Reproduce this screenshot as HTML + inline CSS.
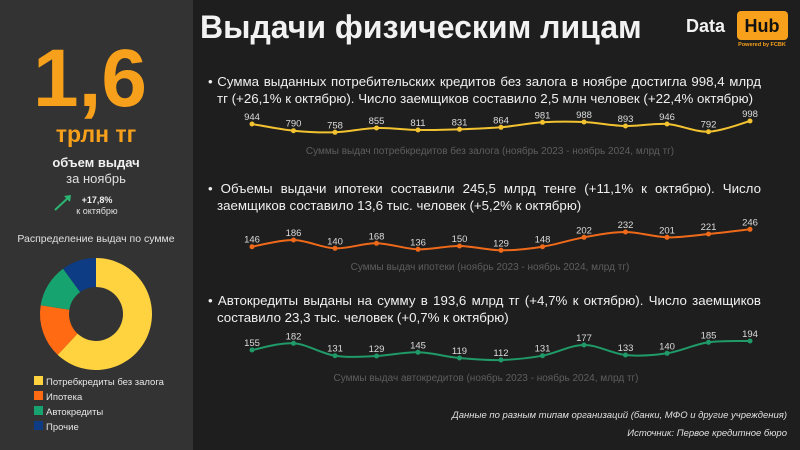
<!DOCTYPE html>
<html><head><meta charset="utf-8"><style>
body{margin:0;width:800px;height:450px;background:#1e1e1e;overflow:hidden;font-family:"Liberation Sans","DejaVu Sans",sans-serif;}
svg{display:block}
.p{position:absolute;color:#f0f0f0;font-size:13.3px;line-height:17px;text-align:justify;text-align-last:left;padding-left:9px;text-indent:-9px;}
</style></head><body>
<div style="position:absolute;left:0;top:0;width:193px;height:450px;background:#333333"></div>
<svg id="s" width="800" height="450" style="position:absolute;left:0;top:0">
<text x="90" y="106" text-anchor="middle" font-size="82" font-weight="bold" fill="#f7a01b">1,6</text>
<text x="96" y="142" text-anchor="middle" font-size="23" font-weight="bold" fill="#f7a01b">трлн тг</text>
<text x="96" y="167" text-anchor="middle" font-size="13" font-weight="bold" fill="#f0f0f0">объем выдач</text>
<text x="96" y="183" text-anchor="middle" font-size="13" fill="#e0e0e0">за ноябрь</text>
<line x1="55" y1="210" x2="69" y2="197" stroke="#2bb673" stroke-width="2"/>
<polygon points="71,195 64,196 70,202" fill="#2bb673"/>
<text x="97" y="203" text-anchor="middle" font-size="9" font-weight="bold" fill="#f0f0f0">+17,8%</text>
<text x="97" y="214" text-anchor="middle" font-size="9" fill="#e0e0e0">к октябрю</text>
<text x="96" y="242" text-anchor="middle" font-size="10.5" fill="#e0e0e0">Распределение выдач по сумме</text>
<g id="donut"></g>
<rect x="34" y="376" width="9" height="9" fill="#ffd23f"/><text x="46" y="385" font-size="9.5" fill="#e6e6e6">Потребкредиты без залога</text>
<rect x="34" y="391" width="9" height="9" fill="#ff6a13"/><text x="46" y="400" font-size="9.5" fill="#e6e6e6">Ипотека</text>
<rect x="34" y="406" width="9" height="9" fill="#17a36f"/><text x="46" y="415" font-size="9.5" fill="#e6e6e6">Автокредиты</text>
<rect x="34" y="421" width="9" height="9" fill="#0d3c85"/><text x="46" y="430" font-size="9.5" fill="#e6e6e6">Прочие</text>
<text x="200" y="38" font-size="32" font-weight="bold" fill="#f2f2f2">Выдачи физическим лицам</text>
<text x="686" y="32" font-size="18" font-weight="bold" fill="#f2f2f2">Data</text>
<rect x="737" y="11" width="51" height="29" rx="4" fill="#f7a01b"/>
<text x="762" y="32" text-anchor="middle" font-size="18" font-weight="bold" fill="#111">Hub</text>
<text x="762" y="46" text-anchor="middle" font-size="5.5" font-weight="bold" fill="#f7a01b">Powered by FCBK</text>
<text x="490" y="154" text-anchor="middle" font-size="10" fill="#5e5e5e">Суммы выдач потребкредитов без залога (ноябрь 2023 - ноябрь 2024, млрд тг)</text>
<text x="490" y="270" text-anchor="middle" font-size="10" fill="#5e5e5e">Суммы выдач ипотеки  (ноябрь 2023 - ноябрь 2024, млрд тг)</text>
<text x="486" y="381" text-anchor="middle" font-size="10" fill="#5e5e5e">Суммы выдач автокредитов (ноябрь 2023 - ноябрь 2024, млрд тг)</text>
<text x="787" y="418" text-anchor="end" font-size="9.5" font-style="italic" fill="#e0e0e0">Данные по разным типам организаций (банки, МФО и другие учреждения)</text>
<text x="787" y="436" text-anchor="end" font-size="9.5" font-style="italic" fill="#e0e0e0">Источник: Первое кредитное бюро</text>
<g id="lines"></g>
</svg>
<div class="p" style="left:208px;top:73px;width:544px">• Сумма выданных потребительских кредитов без залога в ноябре достигла 998,4 млрд тг (+26,1% к октябрю). Число заемщиков составило 2,5 млн человек (+22,4% октябрю)</div>
<div class="p" style="left:208px;top:180px;width:544px">• Объемы выдачи ипотеки составили 245,5 млрд тенге (+11,1% к октябрю). Число заемщиков составило 13,6 тыс. человек (+5,2% к октябрю)</div>
<div class="p" style="left:208px;top:292px;width:544px">• Автокредиты выданы на сумму в 193,6 млрд тг (+4,7% к октябрю). Число заемщиков составило 23,3 тыс. человек (+0,7% к октябрю)</div>
<script>
var NS="http://www.w3.org/2000/svg";
function el(t,a,p){var e=document.createElementNS(NS,t);for(var k in a)e.setAttribute(k,a[k]);p.appendChild(e);return e;}
var d=document.getElementById("donut"),cx=96,cy=314,R=56,r=27,vals=[[62,"#ffd23f"],[15.5,"#ff6a13"],[12.5,"#17a36f"],[10,"#0d3c85"]],a0=-Math.PI/2;
vals.forEach(function(v){var a1=a0+v[0]/100*2*Math.PI,l=(a1-a0)>Math.PI?1:0;
var p="M"+(cx+R*Math.cos(a0))+","+(cy+R*Math.sin(a0))+"A"+R+","+R+" 0 "+l+" 1 "+(cx+R*Math.cos(a1))+","+(cy+R*Math.sin(a1))+"L"+(cx+r*Math.cos(a1))+","+(cy+r*Math.sin(a1))+"A"+r+","+r+" 0 "+l+" 0 "+(cx+r*Math.cos(a0))+","+(cy+r*Math.sin(a0))+"Z";
el("path",{d:p,fill:v[1]},d);a0=a1;});
var g=document.getElementById("lines");
var S=[
{c:"#f2c230",v:[944,790,758,855,811,831,864,981,988,893,946,792,998],y:[124,130.7,132.3,128,130,129.3,127.3,122.3,122,126,124,131.7,121]},
{c:"#ee6a1a",v:[146,186,140,168,136,150,129,148,202,232,201,221,246],y:[246.7,240,248.3,243.3,249.3,246,250.3,246.7,237.3,232,237.3,234,229.3]},
{c:"#1f9a68",v:[155,182,131,129,145,119,112,131,177,133,140,185,194],y:[350,343.3,355.7,356,352.3,358,360,355.7,345,355,353.3,342.3,341]}];
S.forEach(function(s){var pts=s.y.map(function(y,i){return[252+i*41.5,y];});
var p="M"+pts[0][0]+","+pts[0][1];
for(var i=0;i<pts.length-1;i++){var p0=pts[i-1]||pts[i],p1=pts[i],p2=pts[i+1],p3=pts[i+2]||p2;
p+="C"+(p1[0]+(p2[0]-p0[0])/6)+","+(p1[1]+(p2[1]-p0[1])/6)+" "+(p2[0]-(p3[0]-p1[0])/6)+","+(p2[1]-(p3[1]-p1[1])/6)+" "+p2[0]+","+p2[1];}
el("path",{d:p,fill:"none",stroke:s.c,"stroke-width":2},g);
pts.forEach(function(q,i){el("circle",{cx:q[0],cy:q[1],r:2.5,fill:s.c},g);
var t=el("text",{x:q[0],y:q[1]-4,"text-anchor":"middle","font-size":9.5,fill:"#dcdcdc"},g);t.textContent=s.v[i];});});
</script>
</body></html>
